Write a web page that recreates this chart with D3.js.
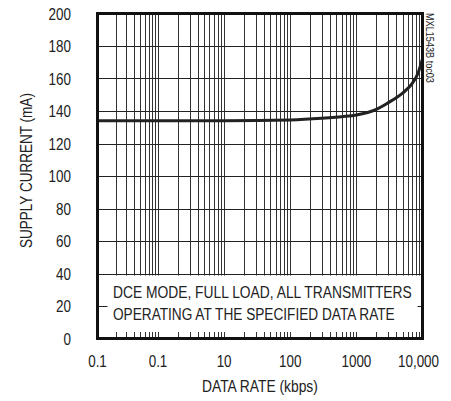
<!DOCTYPE html>
<html>
<head>
<meta charset="UTF-8">
<title>Supply current vs data rate</title>
<script src="https://d3js.org/d3.v7.min.js"></script>
<style>
  body { margin: 0; background: #fff; }
  text { font-family: "Liberation Sans", Arial, sans-serif; fill: #222; }
</style>
</head>
<body>
<div id="chart"></div>
<script>
// data
const rate = [0.1, 1, 10, 100, 300, 600, 1000, 2000, 3000, 5000, 7000, 8500, 10000];
const current = [134, 134, 134, 134.5, 135.5, 136.5, 137.5, 141, 145, 151, 157, 163, 172];

const yTicks = [0, 20, 40, 60, 80, 100, 120, 140, 160, 180, 200];
const xTicks = [0.1, 1, 10, 100, 1000, 10000];
const xTickLabels = ["0.1", "0.1", "10", "100", "1000", "10,000"];
const noteLines = ["DCE MODE, FULL LOAD, ALL TRANSMITTERS", "OPERATING AT THE SPECIFIED DATA RATE"];

const W = 451, H = 401;
const L = 97.5, R = 422.5, T = 13.5, B = 338.5;
const narrow = 0.84; // the original uses a condensed face

const svg = d3.select("#chart").append("svg")
  .attr("width", W).attr("height", H);

// squeeze a text horizontally so it is w pixels long
function fitWidth(sel, w, rot) {
  sel.each(function () {
    const t = d3.select(this);
    const k = w / this.getComputedTextLength();
    t.attr("transform", t.attr("transform") + (rot ? " rotate(" + rot + ")" : "") + " scale(" + k + ",1)");
  });
}

// first decade is drawn a bit narrower in the original
const x = d3.scaleLog().domain([0.1, 1, 10000]).range([L, 158, R]);
const y = d3.scaleLinear().domain([0, 200]).range([B, T]);

// vertical log grid
let gridX = [];
for (let d = 0.1; d < 10000; d *= 10) {
  for (let k = 1; k < 10; k++) gridX.push(d * k);
}
gridX = gridX.filter(v => v > 0.1);
svg.append("g").selectAll("line").data(gridX).enter().append("line")
  .attr("x1", d => Math.round(x(d)) + 0.5).attr("x2", d => Math.round(x(d)) + 0.5)
  .attr("y1", T).attr("y2", B)
  .attr("stroke", "#333").attr("stroke-width", 1);

// horizontal grid
svg.append("g").selectAll("line").data(yTicks.slice(1, -1)).enter().append("line")
  .attr("x1", L).attr("x2", R)
  .attr("y1", d => Math.round(y(d)) + 0.5).attr("y2", d => Math.round(y(d)) + 0.5)
  .attr("stroke", "#222").attr("stroke-width", 1);

// white note box over the lower grid
svg.append("rect")
  .attr("x", L).attr("y", y(40) + 2)
  .attr("width", R - L).attr("height", y(4) - y(40) - 2)
  .attr("fill", "#fff");

// small ticks at 20 on both sides
svg.append("line").attr("x1", L).attr("x2", L + 10)
  .attr("y1", Math.round(y(20)) + 0.5).attr("y2", Math.round(y(20)) + 0.5)
  .attr("stroke", "#222");
svg.append("line").attr("x1", R - 5).attr("x2", R)
  .attr("y1", Math.round(y(20)) + 0.5).attr("y2", Math.round(y(20)) + 0.5)
  .attr("stroke", "#222");

svg.append("g").selectAll("text").data(noteLines).enter().append("text")
  .attr("transform", (d, i) => "translate(113," + (298 + i * 22) + ")")
  .attr("font-size", 16)
  .text(d => d)
  .call(s => s.each(function (d, i) { fitWidth(d3.select(this), i === 0 ? 299 : 282); }));

// curve
const line = d3.line()
  .x(d => x(d[0])).y(d => y(d[1]))
  .curve(d3.curveMonotoneX);
svg.append("path")
  .datum(rate.map((r, i) => [r, current[i]]))
  .attr("d", line)
  .attr("fill", "none").attr("stroke", "#222").attr("stroke-width", 3);

// frame
svg.append("rect")
  .attr("x", L).attr("y", T).attr("width", R - L).attr("height", B - T)
  .attr("fill", "none").attr("stroke", "#111").attr("stroke-width", 3);

// y tick labels
svg.append("g").selectAll("text").data(yTicks).enter().append("text")
  .attr("transform", d => "translate(71," + (y(d) + 6) + ") scale(" + narrow + ",1)")
  .attr("text-anchor", "end").attr("font-size", 16)
  .text(d => d);

// x tick labels
svg.append("g").selectAll("text").data(xTicks).enter().append("text")
  .attr("transform", (d, i) => "translate(" + (i === xTicks.length - 1 ? x(d) - 4 : x(d)) + ",367) scale(" + narrow + ",1)")
  .attr("text-anchor", "middle").attr("font-size", 16)
  .text((d, i) => xTickLabels[i]);

// axis titles
svg.append("text")
  .attr("transform", "translate(202,392)")
  .attr("font-size", 16)
  .text("DATA RATE (kbps)")
  .call(fitWidth, 116);

svg.append("text")
  .attr("transform", "translate(32,248)")
  .attr("font-size", 16)
  .text("SUPPLY CURRENT (mA)")
  .call(fitWidth, 155, -90);

svg.append("text")
  .attr("transform", "translate(426,13)")
  .attr("font-size", 10)
  .text("MXL1543B toc03")
  .call(fitWidth, 70, 90);
</script>
</body>
</html>
